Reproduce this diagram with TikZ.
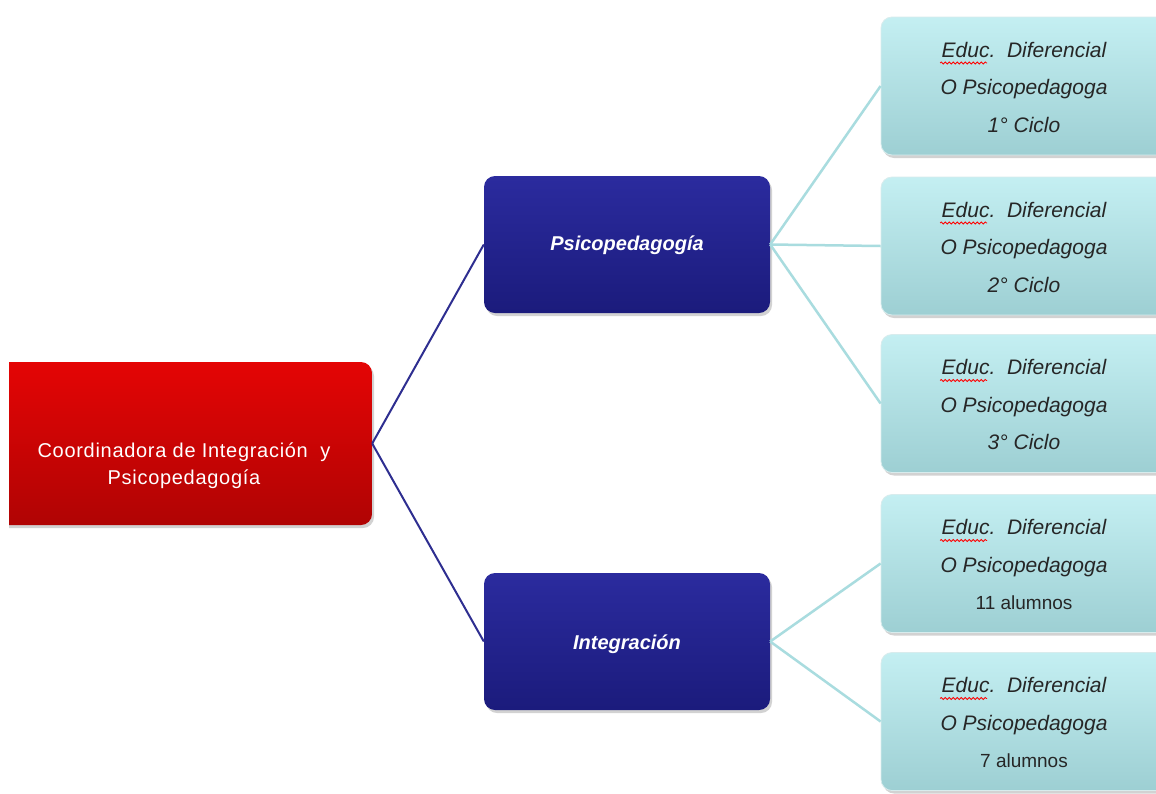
\documentclass[tikz,border=0pt]{standalone}
\usepackage{fontspec}
\setmainfont{Liberation Sans}
\newfontfamily\spacedsans[LetterSpace=3.5]{Liberation Sans}
\usetikzlibrary{shadows,decorations.pathmorphing,calc}
\definecolor{redtop}{HTML}{E40505}
\definecolor{redbot}{HTML}{B00404}
\definecolor{bluetop}{HTML}{2B2B9E}
\definecolor{bluebot}{HTML}{1B1B7C}
\definecolor{cyantop}{HTML}{C4EFF2}
\definecolor{cyanbot}{HTML}{9DCFD3}
\definecolor{navyline}{HTML}{2E2E90}
\definecolor{cyanline}{HTML}{A9DCDF}
\begin{document}
\begin{tikzpicture}[x=1pt,y=-1pt,
  box/.style={rounded corners=11pt, inner sep=0pt, drop shadow={opacity=0.35, shadow xshift=2pt, shadow yshift=-3pt}},
  redbox/.style={box, top color=redtop, bottom color=redbot, minimum width=392pt, minimum height=163pt},
  bluebox/.style={box, top color=bluetop, bottom color=bluebot, minimum width=286pt, minimum height=137pt},
  cyanbox/.style={box, top color=cyantop, bottom color=cyanbot, minimum width=286pt, minimum height=138pt, draw=white!60!cyanbot, line width=0.8pt},
  redtext/.style={text=white, align=center, font=\spacedsans\fontsize{20}{27}\selectfont},
  bluetext/.style={text=white, font=\fontsize{20}{24}\selectfont\bfseries\itshape},
  cyantext/.style={text=black!85, align=center, font=\fontsize{21}{37.5}\selectfont\itshape},
  navy/.style={draw=navyline, line width=2pt},
  cyanl/.style={draw=cyanline, line width=2.5pt},
  wave/.style={draw=red, line width=0.8pt, decorate, decoration={snake, amplitude=1pt, segment length=4pt}}
]
\useasboundingbox (0,0) rectangle (1156,793);
\fill[white] (0,0) rectangle (1156,793);
\clip (0,0) rectangle (1156,793);

\begin{scope}
\clip (9,0) rectangle (1156,793);
\node[redbox] (red) at (176,443.5) {};
\end{scope}
\node[redtext] (redt) at (184,466) {Coordinadora de Integración\ \ y\\Psicopedagogía};

\node[bluebox] (psy) at (627,244.5) {};
\node[bluetext] (psyt) at (627,245) {Psicopedagogía};
\node[bluebox] (int) at (627,641.5) {};
\node[bluetext] (intt) at (627,644) {Integración};

\node[cyanbox] (c1) at (1024,86) {};
\node[cyanbox] (c2) at (1024,246) {};
\node[cyanbox] (c3) at (1024,403.5) {};
\node[cyanbox] (c4) at (1024,563.5) {};
\node[cyanbox] (c5) at (1024,721.5) {};

\node[cyantext] (t1) at ($(c1.center)+(0,1)$) {Educ.\ \ Diferencial\\O Psicopedagoga\\1° Ciclo};
\node[cyantext] (t2) at ($(c2.center)+(0,1)$) {Educ.\ \ Diferencial\\O Psicopedagoga\\2° Ciclo};
\node[cyantext] (t3) at ($(c3.center)+(0,1)$) {Educ.\ \ Diferencial\\O Psicopedagoga\\3° Ciclo};
\node[cyantext] (t4) at ($(c4.center)+(0,1)$) {Educ.\ \ Diferencial\\O Psicopedagoga\\\upshape\fontsize{19}{37.5}\selectfont 11 alumnos};
\node[cyantext] (t5) at ($(c5.center)+(0,1)$) {Educ.\ \ Diferencial\\O Psicopedagoga\\\upshape\fontsize{19}{37.5}\selectfont 7 alumnos};

\foreach \c in {c1,c2,c3,c4,c5}{
  \draw[wave] ($(\c.center)+(-84,-23)$) -- ($(\c.center)+(-37,-23)$);
}

\draw[navy] (red.east) -- (psy.west);
\draw[navy] (red.east) -- (int.west);
\draw[cyanl] (psy.east) -- (c1.west);
\draw[cyanl] (psy.east) -- (c2.west);
\draw[cyanl] (psy.east) -- (c3.west);
\draw[cyanl] (int.east) -- (c4.west);
\draw[cyanl] (int.east) -- (c5.west);
\end{tikzpicture}
\end{document}
